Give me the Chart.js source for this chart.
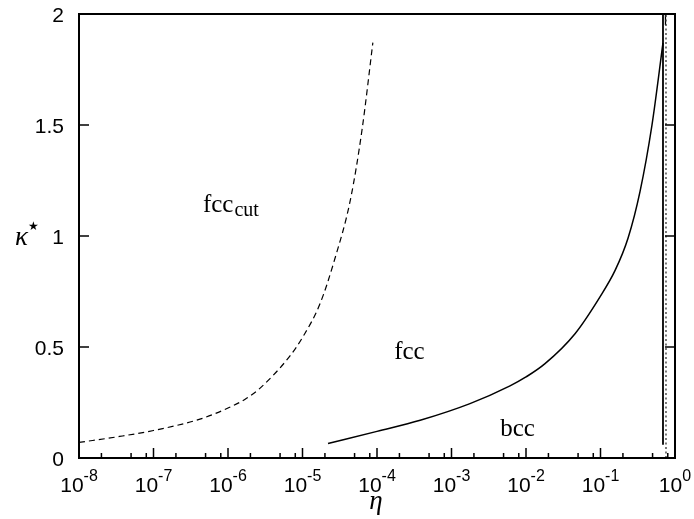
<!DOCTYPE html>
<html>
<head>
<meta charset="utf-8">
<script src="https://cdn.jsdelivr.net/npm/chart.js@4"></script>
<style>
  html, body { margin: 0; padding: 0; background: #fff; }
  canvas { display: block; }
</style>
</head>
<body>
<canvas id="chart" width="694" height="519"></canvas>
<script>
// fcc_cut / fcc boundary (dashed)
var cutEta = [1e-8, 3.5e-8, 1.0e-7, 4.2e-7, 1.0e-6, 1.7e-6, 2.7e-6, 6.8e-6, 1.0e-5, 1.7e-5, 2.7e-5, 4.4e-5, 6.3e-5, 8.8e-5];
var cutKappa = [0.07, 0.097, 0.124, 0.175, 0.225, 0.265, 0.315, 0.46, 0.543, 0.691, 0.894, 1.164, 1.479, 1.871];

// fcc / bcc boundary (solid)
var fccEta = [2.2e-5, 1.0e-4, 3.8e-4, 1.77e-3, 6.1e-3, 1.0e-2, 1.8e-2, 4.55e-2, 9.8e-2, 0.157, 0.234, 0.339, 0.491, 0.69];
var fccKappa = [0.065, 0.12, 0.17, 0.245, 0.325, 0.365, 0.425, 0.56, 0.725, 0.845, 0.99, 1.2, 1.5, 1.87];

// vertical boundaries at high packing fraction
var wallEta = [0.69, 0.69];
var wallKappa = [0.06, 2];
var dotEta = [0.757, 0.757];
var dotKappa = [0, 2];
var capEta = [0.745, 0.745];
var capKappa = [1.95, 2];

// axes
var xTickExponents = [-8, -7, -6, -5, -4, -3, -2, -1, 0];
var xMinorMantissas = [2, 5, 8];
var yTicks = [0, 0.5, 1, 1.5, 2];
var yTickLabels = ['0', '0.5', '1', '1.5', '2'];

// phase labels
var regionNames = ['fcc', 'fcc', 'bcc'];
var regionSubs = ['cut', '', ''];
var regionEta = [4.6e-7, 1.7e-4, 4.5e-3];
var regionKappa = [1.106, 0.444, 0.101];

function toPoints(xs, ys) {
    return xs.map(function (x, i) { return { x: x, y: ys[i] }; });
}

// Draws frame, inward ticks, tick labels, axis titles and phase names
var framePlugin = {
    id: 'frame',
    afterDatasetsDraw: function (chart) {
        var ctx = chart.ctx;
        var area = chart.chartArea;
        var xs = chart.scales.x;
        var ys = chart.scales.y;
        ctx.save();
        ctx.strokeStyle = '#000';
        ctx.fillStyle = '#000';

        // ticks
        ctx.lineWidth = 1.5;
        ctx.beginPath();
        xTickExponents.forEach(function (e) {
            var px = xs.getPixelForValue(Math.pow(10, e));
            ctx.moveTo(px, area.bottom);
            ctx.lineTo(px, area.bottom - 10);
            if (e < 0) {
                xMinorMantissas.forEach(function (m) {
                    var mx = xs.getPixelForValue(m * Math.pow(10, e));
                    ctx.moveTo(mx, area.bottom);
                    ctx.lineTo(mx, area.bottom - 5);
                });
            }
        });
        yTicks.forEach(function (v) {
            var py = ys.getPixelForValue(v);
            ctx.moveTo(area.left, py);
            ctx.lineTo(area.left + 10, py);
            ctx.moveTo(area.right, py);
            ctx.lineTo(area.right - 10, py);
        });
        ctx.stroke();

        // frame
        ctx.lineWidth = 2;
        ctx.strokeRect(area.left, area.top, area.right - area.left, area.bottom - area.top);

        // x tick labels: 10 with raised exponent
        ctx.textAlign = 'left';
        ctx.textBaseline = 'alphabetic';
        var baseFont = '21px "Liberation Sans", Arial, sans-serif';
        var expFont = '16px "Liberation Sans", Arial, sans-serif';
        xTickExponents.forEach(function (e) {
            var px = xs.getPixelForValue(Math.pow(10, e));
            var base = '10', exp = String(e);
            ctx.font = baseFont;
            var w1 = ctx.measureText(base).width;
            ctx.font = expFont;
            var w2 = ctx.measureText(exp).width;
            var x0 = px - (w1 + w2) / 2;
            ctx.font = baseFont;
            ctx.fillText(base, x0, area.bottom + 34);
            ctx.font = expFont;
            ctx.fillText(exp, x0 + w1, area.bottom + 23);
        });

        // y tick labels
        ctx.font = baseFont;
        ctx.textAlign = 'right';
        yTicks.forEach(function (v, i) {
            ctx.fillText(yTickLabels[i], area.left - 15, ys.getPixelForValue(v) + 7.5);
        });

        // axis titles
        ctx.textAlign = 'center';
        ctx.font = 'italic 27px "Liberation Serif", serif';
        ctx.fillText('\u03b7', 376, area.bottom + 51);
        ctx.textAlign = 'left';
        ctx.fillText('\u03ba', 15, ys.getPixelForValue(1) + 9);
        ctx.font = '12px "DejaVu Sans", sans-serif';
        ctx.fillText('\u2605', 28, ys.getPixelForValue(1) - 6);

        // phase names
        regionNames.forEach(function (name, i) {
            var px = xs.getPixelForValue(regionEta[i]);
            var py = ys.getPixelForValue(regionKappa[i]);
            ctx.font = '25px "Liberation Serif", serif';
            ctx.fillText(name, px, py);
            if (regionSubs[i]) {
                var w = ctx.measureText(name).width;
                ctx.font = '20px "Liberation Serif", serif';
                ctx.fillText(regionSubs[i], px + w + 1, py + 4);
            }
        });
        ctx.restore();
    }
};

var ctx = document.getElementById('chart').getContext('2d');
var chart = new Chart(ctx, {
    type: 'scatter',
    data: {
        datasets: [
            {
                data: toPoints(cutEta, cutKappa),
                showLine: true,
                borderColor: '#000',
                borderWidth: 1.2,
                borderDash: [6, 4],
                pointRadius: 0,
                cubicInterpolationMode: 'monotone'
            },
            {
                data: toPoints(fccEta, fccKappa),
                showLine: true,
                borderColor: '#000',
                borderWidth: 1.5,
                pointRadius: 0,
                cubicInterpolationMode: 'monotone'
            },
            {
                data: toPoints(wallEta, wallKappa),
                showLine: true,
                borderColor: '#000',
                borderWidth: 1.8,
                pointRadius: 0
            },
            {
                data: toPoints(dotEta, dotKappa),
                showLine: true,
                borderColor: '#333',
                borderWidth: 1.3,
                borderDash: [2, 2.5],
                pointRadius: 0
            },
            {
                data: toPoints(capEta, capKappa),
                showLine: true,
                borderColor: '#000',
                borderWidth: 1.3,
                pointRadius: 0
            }
        ]
    },
    options: {
        responsive: false,
        animation: false,
        layout: { padding: { left: 79, right: 19, top: 14, bottom: 61 } },
        plugins: { legend: { display: false }, tooltip: { enabled: false } },
        scales: {
            x: { type: 'logarithmic', min: 1e-8, max: 1, display: false },
            y: { type: 'linear', min: 0, max: 2, display: false }
        }
    },
    plugins: [framePlugin]
});
</script>
</body>
</html>
